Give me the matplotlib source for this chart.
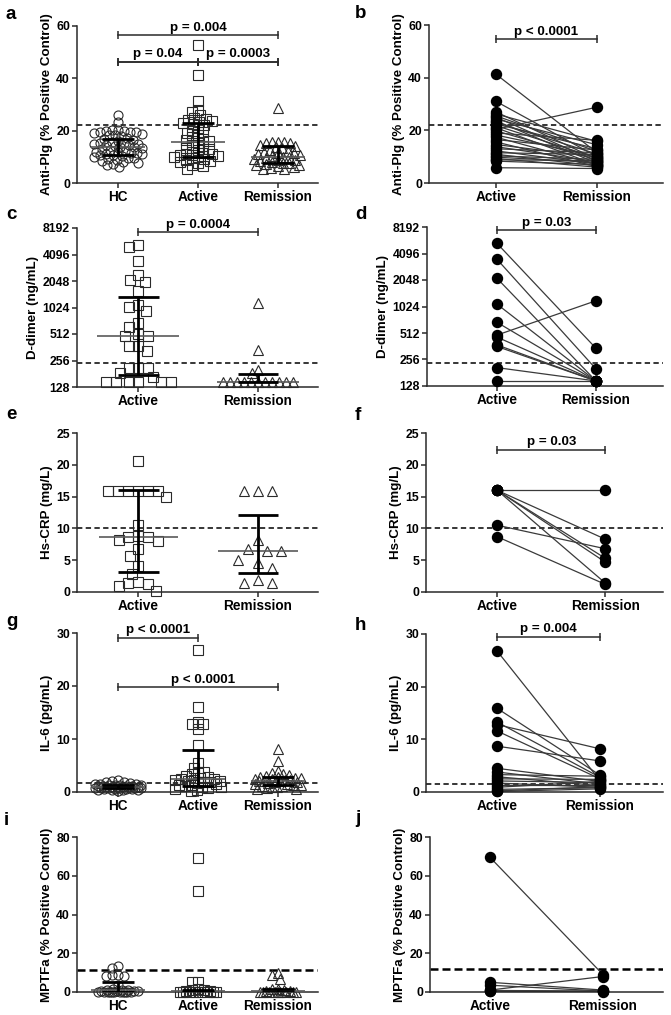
import numpy as np
from matplotlib import pyplot as plt
from matplotlib.ticker import NullLocator

plt.rcParams['font.family'] = ['Liberation Sans', 'DejaVu Sans']
plt.rcParams['font.weight'] = 'bold'

# ---- values ----
# a: anti-Plg, unpaired
a_cats = ['HC', 'Active', 'Remission']
a_hc = [25.8, 23.4, 20.3, 20.1, 19.9, 19.8, 19.6, 19.5, 19.3, 19.1, 18.8, 18.5,
        18.2, 17.8, 17.3, 16.8, 16.4, 15.9, 15.6, 15.4, 15.2, 15.0, 14.8, 14.6,
        14.4, 14.2, 13.9, 13.6, 13.3, 13.0, 12.7, 12.3, 12.0, 11.8, 11.6, 11.4,
        11.2, 11.0, 10.8, 10.6, 10.3, 10.0, 9.7, 9.4, 9.1, 8.8, 8.4, 8.0, 7.6,
        7.2, 6.8, 6.3]
a_active = [52.7, 41.3, 31.5, 27.9, 27.2, 25.8, 25.0, 24.6, 24.2, 23.8, 23.5,
            23.0, 22.6, 22.0, 21.0, 20.0, 19.5, 19.0, 18.2, 17.5, 17.0, 16.5,
            16.0, 15.2, 14.5, 14.0, 13.5, 13.0, 12.5, 12.0, 11.5, 11.2, 11.0,
            10.7, 10.4, 10.1, 9.8, 9.5, 9.2, 8.8, 8.4, 8.0, 7.5, 7.0, 6.5, 5.5]
a_remission = [28.5, 15.8, 15.6, 15.5, 15.4, 15.3, 14.5, 14.0, 13.6, 13.2, 12.8,
               12.4, 12.0, 11.6, 11.3, 11.0, 10.7, 10.4, 10.1, 9.8, 9.5, 9.2,
               8.9, 8.6, 8.3, 8.0, 7.8, 7.5, 7.2, 7.0, 6.7, 6.4, 6.1, 5.8, 5.5,
               5.2]
a_med = [13.6, 15.5, 9.8]
a_q1 = [10.8, 10.0, 7.5]
a_q3 = [16.8, 22.8, 14.0]
a_cut = 22.2

# b: anti-Plg, paired
b_active = [41.3, 31.0, 27.0, 26.2, 25.5, 25.0, 24.3, 23.6, 23.0, 22.4, 21.8,
            21.0, 20.4, 19.8, 19.0, 18.2, 17.4, 16.5, 15.6, 14.6, 13.8, 13.0,
            12.2, 11.5, 10.9, 10.3, 9.8, 9.3, 8.8, 8.3, 5.8]
b_remission = [11.5, 10.0, 9.0, 15.8, 12.0, 8.2, 14.5, 7.5, 11.0, 13.0, 9.5,
               6.8, 28.8, 8.8, 16.2, 10.2, 7.0, 12.5, 6.2, 9.8, 8.0, 11.5, 7.2,
               10.8, 6.5, 9.0, 7.8, 6.0, 8.5, 7.0, 5.5]
b_cut = 22.0

# c: D-dimer, unpaired
c_cats = ['Active', 'Remission']
c_active = [5270, 5020, 3450, 2400, 2110, 2010, 1575, 1090, 1030, 935, 676, 610,
            510, 485, 485, 378, 378, 331, 209, 209, 209, 183, 168, 147, 147, 147,
            147, 147, 147]
c_remission = [1160, 337, 200, 186, 147, 147, 147, 147, 147, 147, 147, 147, 147,
               147, 147]
c_med = [490, 147]
c_q1 = [175, 147]
c_q3 = [1340, 180]
c_cut = 240

# d: D-dimer, paired
d_active = [5340, 3520, 2140, 1090, 677, 485, 460, 375, 360, 207, 146]
d_remission = [343, 200, 146, 146, 146, 1190, 146, 146, 146, 146, 146]
d_cut = 232

# e: Hs-CRP, unpaired
e_active = [20.6, 15.9, 15.9, 15.9, 15.9, 15.9, 15.9, 14.9, 10.5, 8.7, 8.2, 8.0,
            8.6, 8.8, 6.7, 5.7, 4.1, 2.9, 1.5, 1.2, 0.9, 1.4, 0.15]
e_remission = [15.9, 15.9, 15.9, 8.2, 6.7, 6.4, 6.5, 4.5, 5.1, 3.7, 1.9, 1.4, 1.4]
e_med = [8.7, 6.5]
e_q1 = [3.2, 3.0]
e_q3 = [16.0, 12.1]
e_cut = 10

# f: Hs-CRP, paired
f_active = [16.0, 16.0, 16.0, 16.0, 16.0, 10.5, 8.7]
f_remission = [16.0, 8.3, 5.3, 4.7, 1.4, 6.8, 1.2]
f_cut = 10

# g: IL-6, unpaired
g_hc = [2.2, 2.0, 1.9, 1.8, 1.7, 1.6, 1.5, 1.5, 1.4, 1.4, 1.3, 1.3, 1.2, 1.2,
        1.1, 1.1, 1.0, 1.0, 1.0, 0.9, 0.9, 0.9, 0.8, 0.8, 0.8, 0.7, 0.7, 0.7,
        0.6, 0.6, 0.5, 0.5, 0.4, 0.4, 0.3, 0.3, 0.2]
g_active = [26.8, 16.0, 13.3, 12.8, 12.8, 11.8, 8.9, 5.5, 4.6, 3.8, 3.8, 3.4,
            3.1, 2.9, 2.7, 2.5, 2.4, 2.3, 2.2, 2.1, 2.0, 1.9, 1.8, 1.7, 1.5,
            1.4, 1.3, 1.2, 1.0, 0.9, 0.7, 0.5, 0.3, 0.1]
g_remission = [8.2, 5.9, 4.0, 3.6, 3.4, 3.2, 3.0, 2.9, 2.8, 2.7, 2.6, 2.5, 2.4,
               2.3, 2.2, 2.1, 2.0, 2.0, 1.9, 1.8, 1.7, 1.6, 1.5, 1.4, 1.3, 1.2,
               1.1, 1.0, 0.9, 0.8, 0.6, 0.5]
g_med = [1.0, 2.4, 2.0]
g_q1 = [0.7, 1.2, 1.3]
g_q3 = [1.3, 7.9, 2.8]
g_cut = 1.75

# h: IL-6, paired
h_active = [26.8, 15.9, 13.3, 12.8, 11.6, 8.7, 4.5, 3.8, 3.3, 2.9, 2.5, 2.1,
            1.7, 1.3, 0.9, 0.5, 0.2, 0.1]
h_remission = [2.2, 3.2, 2.8, 8.2, 2.5, 5.9, 2.0, 1.5, 3.0, 1.2, 2.4, 1.8, 0.9,
               1.3, 2.0, 0.8, 1.0, 0.6]
h_cut = 1.5

# i: MPTFa, unpaired
i_hc = [13.4, 12.2, 8.8, 8.8, 8.5, 8.5, 3.4, 1.5, 1.2, 1.0, 0.8, 0.6, 0.5, 0.4,
        0.3, 0.2, 0.1, 0, 0, 0, 0, 0, 0, 0, 0, 0]
i_active = [69.3, 51.9, 5.2, 5.2, 1.5, 1.0, 0.8, 0.5, 0.3, 0.2, 0.1, 0, 0, 0, 0,
            0, 0]
i_remission = [9.8, 9.0, 6.9, 1.5, 1.5, 1.0, 0.5, 0.3, 0.2, 0.1, 0, 0, 0, 0, 0,
               0, 0]
i_med = [1.0, 0.3, 0.3]
i_q1 = [0, 0, 0]
i_q3 = [5.2, 1.0, 1.5]
i_cut = 11.5

# j: MPTFa, paired
j_active = [69.5, 1.0, 5.0, 3.5, 0.8, 0.5, 0.3]
j_remission = [9.0, 8.0, 1.0, 0.5, 0.5, 0.3, 0.0]
j_cut = 12.0

pair_cats = ['Active', 'Remission']

W, H = 671, 1015
fig = plt.figure(figsize=(W / 100, H / 100), dpi=100)
EDGE = '#2a2a2a'


def make_ax(l, t, r, b):
    return fig.add_axes([l / W, 1 - b / H, (r - l) / W, (b - t) / H])


def setup(ax, cats, xlim, ylim, yticks, ylabel, log=False):
    if log:
        ax.set_yscale('log', base=2)
    ax.set_xlim(xlim)
    ax.set_ylim(ylim)
    ax.set_xticks(range(len(cats)))
    ax.set_xticklabels(cats, fontsize=9.8, fontweight='bold')
    ax.set_yticks(yticks)
    ax.set_yticklabels([str(v) for v in yticks], fontsize=8.8, fontweight='bold')
    ax.yaxis.set_minor_locator(NullLocator())
    for s in ['top', 'right']:
        ax.spines[s].set_visible(False)
    for s in ['left', 'bottom']:
        ax.spines[s].set_linewidth(1.1)
        ax.spines[s].set_color(EDGE)
    ax.tick_params(direction='out', length=3.5, width=1.1, color=EDGE, pad=1.5)
    ax.set_ylabel(ylabel, fontsize=9.6, fontweight='bold', labelpad=2.5)
    ax.patch.set_alpha(0)


def cutoff(ax, y, lw=1.1, dashes=(3.5, 2.2)):
    ax.axhline(y, color='k', lw=lw, dashes=dashes, zorder=1)


def swarm(ax, x0, vals, d, maxw):
    vals = np.asarray(vals, dtype=float)
    pts = ax.transData.transform(np.column_stack([np.full(len(vals), float(x0)), vals]))
    xc = pts[0, 0]
    ys = pts[:, 1]
    grid = np.arange(-maxw, maxw + 0.01, 0.5)
    grid = grid[np.argsort(np.abs(grid) + (grid > 0) * 0.01, kind='stable')]
    px, py = [], []
    xs = np.zeros(len(vals))
    for i in np.argsort(-ys, kind='stable'):
        if px:
            dist = np.sqrt((grid[:, None] - np.array(px)[None, :]) ** 2
                           + (ys[i] - np.array(py)[None, :]) ** 2).min(axis=1)
            ok = np.nonzero(dist >= d)[0]
            off = grid[ok[0]] if len(ok) else grid[np.argmax(dist)]
        else:
            off = 0.0
        px.append(off)
        py.append(ys[i])
        xs[i] = xc + off
    back = ax.transData.inverted().transform(np.column_stack([xs, ys]))
    return back[:, 0]


MARK = {'o': 6.5, 's': 6.8, '^': 7.4}


def scatter_groups(ax, groups, markers, meds, q1s, q3s, d, maxw, mw, cw):
    for k, (vals, m) in enumerate(zip(groups, markers)):
        dd = d[k] if isinstance(d, (list, tuple)) else d
        xs = swarm(ax, k, vals, dd, maxw)
        ax.plot(xs, vals, ls='none', marker=m, ms=MARK[m], mfc='none', mec=EDGE,
                mew=0.8, clip_on=False, zorder=3)
    for k in range(len(groups)):
        ax.plot([k - mw, k + mw], [meds[k], meds[k]], color='#5a5a5a', lw=1.2,
                zorder=4, solid_capstyle='butt')
        ax.plot([k, k], [q1s[k], q3s[k]], color='k', lw=2.0, zorder=5,
                solid_capstyle='butt')
        for q in (q1s[k], q3s[k]):
            ax.plot([k - cw, k + cw], [q, q], color='k', lw=2.0, zorder=5,
                    solid_capstyle='butt')


def paired(ax, left, right):
    for y0, y1 in zip(left, right):
        ax.plot([0, 1], [y0, y1], color='#3a3a3a', lw=0.9, zorder=2)
    ax.plot(np.zeros(len(left)), left, ls='none', marker='o', ms=7.2, color='k',
            clip_on=False, zorder=3)
    ax.plot(np.ones(len(right)), right, ls='none', marker='o', ms=7.2, color='k',
            clip_on=False, zorder=3)


def sig(ax, x1, x2, y, text=None, mids=(), tx=None):
    xs = [x1, x2] + list(mids)
    ax.plot([x1, x2], [y, y], color=EDGE, lw=1.1, clip_on=False)
    ax.plot(xs, [y] * len(xs), ls='none', marker='|', ms=6, mew=1.1, color=EDGE,
            clip_on=False)
    if text:
        ax.annotate(text, xy=((x1 + x2) / 2 if tx is None else tx, y),
                    xytext=(0, 1.0), textcoords='offset points', ha='center',
                    va='bottom', fontsize=9.6, fontweight='bold',
                    annotation_clip=False)


def letter(x, y, s):
    fig.text(x / W, 1 - y / H, s, fontsize=13.5, fontweight='bold', ha='left',
             va='baseline')


lin_ticks_a = [0, 20, 40, 60]
log_ticks = [128, 256, 512, 1024, 2048, 4096, 8192]
crp_ticks = [0, 5, 10, 15, 20, 25]
il6_ticks = [0, 10, 20, 30]
mptf_ticks = [0, 20, 40, 60, 80]

# a
ax = make_ax(77, 26, 318, 183)
setup(ax, a_cats, (-0.51, 2.5), (0, 60), lin_ticks_a, 'Anti-Plg (% Positive Control)')
cutoff(ax, a_cut)
scatter_groups(ax, [a_hc, a_active, a_remission], ['o', 's', '^'], a_med, a_q1,
               a_q3, 6.0, 24, 0.34, 0.2)
sig(ax, 0, 2, 56.6, 'p = 0.004')
sig(ax, 0, 2, 46.4, None, mids=[1])
sig(ax, 0, 1, 46.4, 'p = 0.04')
sig(ax, 1, 2, 46.4, 'p = 0.0003')
letter(6, 19, 'a')

# b
ax = make_ax(429, 25, 663, 183)
setup(ax, pair_cats, (-0.663, 1.653), (0, 60), lin_ticks_a, 'Anti-Plg (% Positive Control)')
cutoff(ax, b_cut)
paired(ax, b_active, b_remission)
sig(ax, 0, 1, 54.7, 'p < 0.0001')
letter(355, 18, 'b')

# c
ax = make_ax(77, 228, 318, 387)
setup(ax, c_cats, (-0.51, 1.5), (128, 8192), log_ticks, 'D-dimer (ng/mL)', log=True)
cutoff(ax, c_cut)
scatter_groups(ax, [c_active, c_remission], ['s', '^'], c_med, c_q1, c_q3,
               [9.5, 7.0], 36, 0.34, 0.17)
sig(ax, 0, 1, 7310, 'p = 0.0004')
letter(6, 219, 'c')

# d
ax = make_ax(427, 227, 663, 386)
setup(ax, pair_cats, (-0.707, 1.677), (128, 8192), log_ticks, 'D-dimer (ng/mL)', log=True)
cutoff(ax, d_cut)
paired(ax, d_active, d_remission)
sig(ax, 0, 1, 7560, 'p = 0.03')
letter(355, 219, 'd')

# e
ax = make_ax(77, 433, 318, 592)
setup(ax, c_cats, (-0.51, 1.5), (0, 25), crp_ticks, 'Hs-CRP (mg/L)')
cutoff(ax, e_cut)
scatter_groups(ax, [e_active, e_remission], ['s', '^'], e_med, e_q1, e_q3,
               [10.0, 14.0], 32, 0.33, 0.17)
letter(6, 419, 'e')

# f
ax = make_ax(426, 433, 663, 592)
setup(ax, pair_cats, (-0.657, 1.533), (0, 25), crp_ticks, 'Hs-CRP (mg/L)')
cutoff(ax, f_cut)
paired(ax, f_active, f_remission)
sig(ax, 0, 1, 22.4, 'p = 0.03')
letter(355, 420, 'f')

# g
ax = make_ax(77, 633, 318, 792)
setup(ax, a_cats, (-0.51, 2.5), (0, 30), il6_ticks, 'IL-6 (pg/mL)')
cutoff(ax, g_cut)
scatter_groups(ax, [g_hc, g_active, g_remission], ['o', 's', '^'], g_med, g_q1,
               g_q3, 6.0, 23, 0.34, 0.2)
sig(ax, 0, 1, 29.1, 'p < 0.0001')
sig(ax, 0, 2, 19.75, 'p < 0.0001', tx=1.06)
letter(6, 626, 'g')

# h
ax = make_ax(426, 634, 663, 792)
setup(ax, pair_cats, (-0.689, 1.612), (0, 30), il6_ticks, 'IL-6 (pg/mL)')
cutoff(ax, h_cut)
paired(ax, h_active, h_remission)
sig(ax, 0, 1, 29.5, 'p = 0.004')
letter(355, 630, 'h')

# i
ax = make_ax(77, 837, 318, 992)
setup(ax, a_cats, (-0.51, 2.5), (0, 80), mptf_ticks, 'MPTFa (% Positive Control)')
cutoff(ax, i_cut, lw=1.8, dashes=(3.2, 1.6))
scatter_groups(ax, [i_hc, i_active, i_remission], ['o', 's', '^'], i_med, i_q1,
               i_q3, 6.0, 20, 0.34, 0.2)
letter(4, 825, 'i')

# j
ax = make_ax(430, 837, 663, 992)
setup(ax, pair_cats, (-0.531, 1.531), (0, 80), mptf_ticks, 'MPTFa (% Positive Control)')
cutoff(ax, j_cut, lw=1.8, dashes=(3.2, 1.6))
paired(ax, j_active, j_remission)
letter(355, 823, 'j')

fig.savefig('out.png', dpi=100)
